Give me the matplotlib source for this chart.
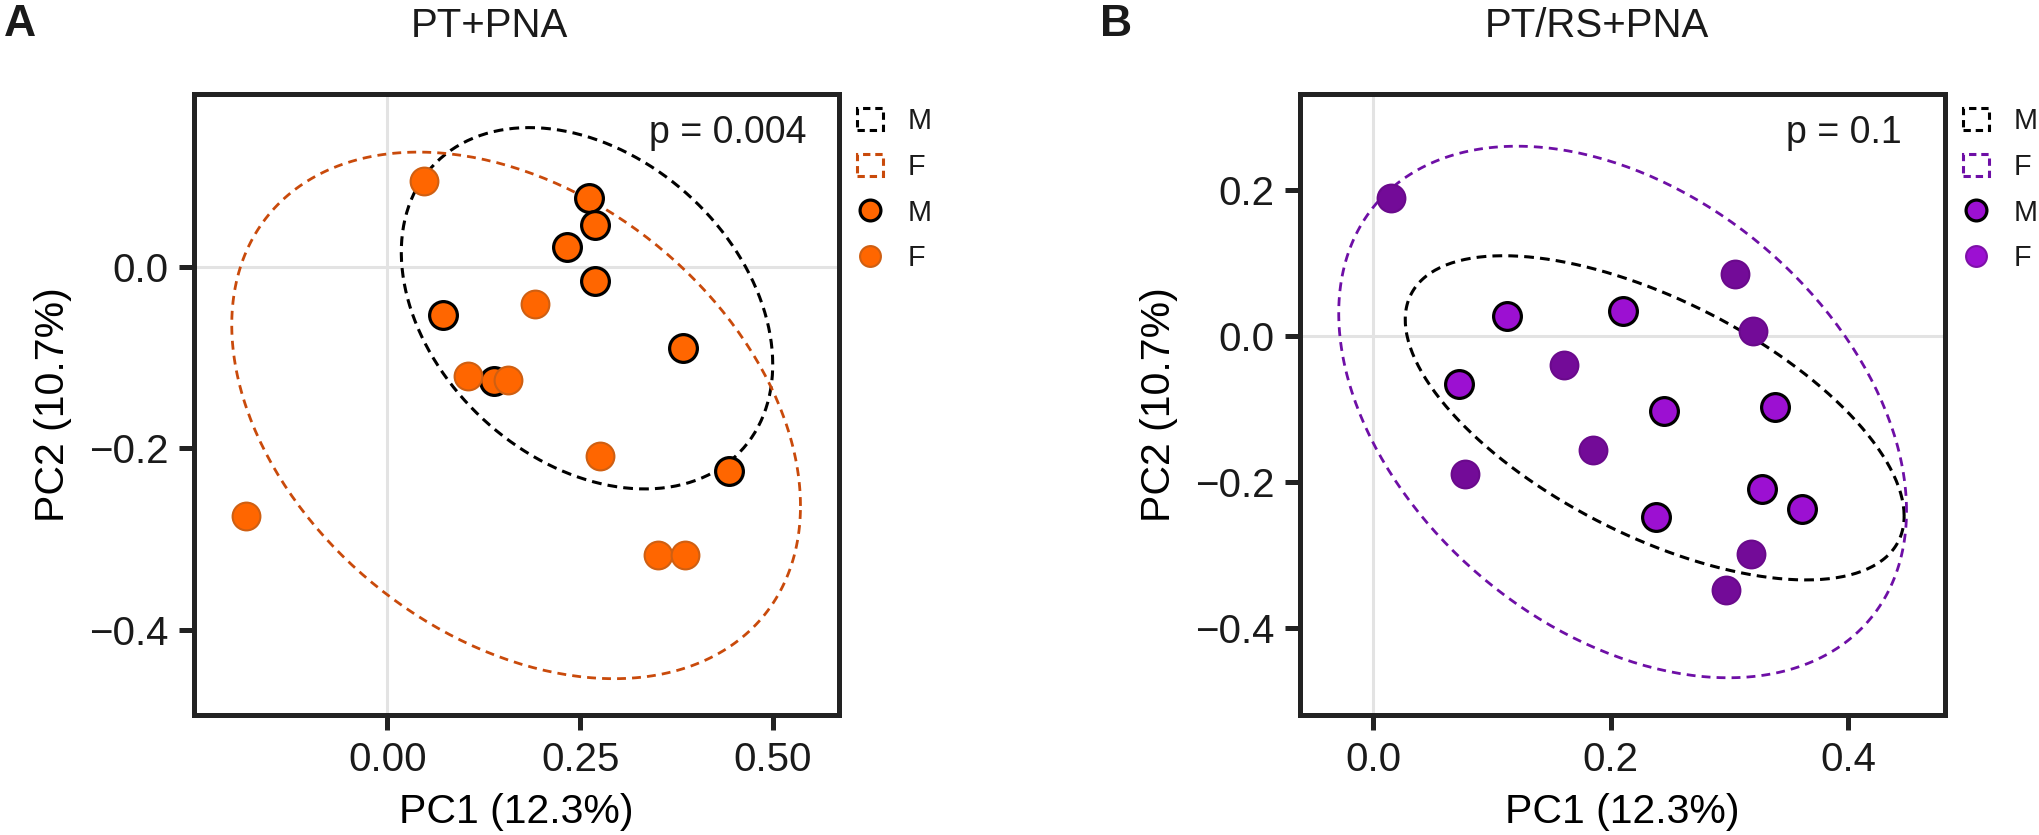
import numpy as np
import matplotlib
matplotlib.use("Agg")
import matplotlib.pyplot as plt
import matplotlib.patches as mpatches
from matplotlib.lines import Line2D

plt.rcParams['font.family'] = ['Liberation Sans', 'DejaVu Sans']
plt.rcParams['text.color'] = '#1a1a1a'

# ---- data ----
# panel A: PT+PNA
a_m_x = [0.261, 0.270, 0.233, 0.269, 0.072, 0.138, 0.384, 0.443]
a_m_y = [0.075, 0.046, 0.021, -0.016, -0.053, -0.126, -0.090, -0.225]
a_f_x = [0.047, 0.192, 0.104, 0.156, 0.276, -0.184, 0.351, 0.386]
a_f_y = [0.094, -0.041, -0.121, -0.125, -0.209, -0.275, -0.318, -0.318]

# panel B: PT/RS+PNA
b_m_x = [0.113, 0.210, 0.072, 0.245, 0.338, 0.327, 0.361, 0.238]
b_m_y = [0.027, 0.034, -0.066, -0.102, -0.097, -0.209, -0.237, -0.248]
b_f_x = [0.015, 0.305, 0.320, 0.161, 0.185, 0.077, 0.318, 0.297]
b_f_y = [0.189, 0.085, 0.007, -0.040, -0.156, -0.189, -0.298, -0.348]

# confidence ellipses: centre x, centre y, half-width x, half-height y, correlation
a_ell_m = [0.259, -0.046, 0.241, 0.199, -0.311]
a_ell_f = [0.167, -0.164, 0.369, 0.290, -0.344]
b_ell_m = [0.237, -0.112, 0.210, 0.222, -0.606]
b_ell_f = [0.210, -0.104, 0.239, 0.364, -0.372]

p_values = ["p = 0.004", "p = 0.1"]
titles = ["PT+PNA", "PT/RS+PNA"]
panel_tags = ["A", "B"]
sex_labels = ["M", "F"]

def ellipse_path(ell):
    cx, cy, sx, sy, rho = ell
    cov = np.array([[sx * sx, rho * sx * sy], [rho * sx * sy, sy * sy]])
    L = np.linalg.cholesky(cov)
    t = np.linspace(0, 2 * np.pi, 300)
    pts = L @ np.vstack([np.cos(t), np.sin(t)])
    return cx + pts[0], cy + pts[1]

def style_axes(ax):
    for s in ax.spines.values():
        s.set_linewidth(3.6)
        s.set_color('#222222')
    ax.tick_params(axis='both', length=10.5, width=3.6, color='#222222',
                   labelsize=29, pad=8, labelcolor='#1a1a1a')
    ax.axhline(0, color='#e3e3e3', lw=2.2, zorder=0)
    ax.axvline(0, color='#e3e3e3', lw=2.2, zorder=0)

W, H = 2040, 835
fig = plt.figure(figsize=(W / 100, H / 100), dpi=100)

panels = [
    dict(left=194, mx=a_m_x, my=a_m_y, fx=a_f_x, fy=a_f_y, em=a_ell_m, ef=a_ell_f,
         fill='#ff6600', f_fill='#ff6600', f_edge='#cf5f12', ell_col='#c94a0b',
         leg_f_fill='#ff6600', leg_f_edge='#cf5f12',
         xlim=(-0.251, 0.586), ylim=(-0.494, 0.190),
         xticks=[0, 0.25, 0.5], xtl=['0.00', '0.25', '0.50'],
         yticks=[0, -0.2, -0.4], ytl=['0.0', '\u22120.2', '\u22120.4'],
         ptx=0.949, tagx=4, titlex=489, legx=857),
    dict(left=1300, mx=b_m_x, my=b_m_y, fx=b_f_x, fy=b_f_y, em=b_ell_m, ef=b_ell_f,
         fill='#9c10d2', f_fill='#730b98', f_edge='#6a0a8c', ell_col='#6e0fa6',
         leg_f_fill='#9c10d2', leg_f_edge='#7e10a8',
         xlim=(-0.0616, 0.4814), ylim=(-0.519, 0.3315),
         xticks=[0, 0.2, 0.4], xtl=['0.0', '0.2', '0.4'],
         yticks=[0.2, 0, -0.2, -0.4], ytl=['0.2', '0.0', '\u22120.2', '\u22120.4'],
         ptx=0.933, tagx=1100, titlex=1597, legx=1963),
]

for i, p in enumerate(panels):
    ax = fig.add_axes((p['left'] / W, 1 - 715 / H, 645 / W, 621 / H))
    style_axes(ax)

    ex, ey = ellipse_path(p['em'])
    ax.plot(ex, ey, color='black', lw=2.2, ls=(0, (3.2, 2.0)), zorder=2)
    ex, ey = ellipse_path(p['ef'])
    ax.plot(ex, ey, color=p['ell_col'], lw=2.0, ls=(0, (3.2, 2.2)), zorder=2)

    ax.scatter(p['mx'], p['my'], s=400, c=p['fill'], edgecolors='black',
               linewidths=2.3, zorder=3)
    ax.scatter(p['fx'], p['fy'], s=400, c=p['f_fill'], edgecolors=p['f_edge'],
               linewidths=1.5, zorder=4)

    ax.set_xlim(p['xlim'])
    ax.set_ylim(p['ylim'])
    ax.set_xticks(p['xticks'])
    ax.set_xticklabels(p['xtl'])
    ax.set_yticks(p['yticks'])
    ax.set_yticklabels(p['ytl'])
    ax.set_xlabel("PC1 (12.3%)", fontsize=29.5, labelpad=10)
    ax.set_ylabel("PC2 (10.7%)", fontsize=29.5, labelpad=12)

    ax.text(p['ptx'], 0.921, p_values[i], transform=ax.transAxes,
            ha='right', va='baseline', fontsize=27)

    fig.text(p['tagx'] / W, 1 - 36 / H, panel_tags[i], fontsize=32,
             fontweight='bold', ha='left', va='baseline')
    fig.text(p['titlex'] / W, 1 - 37 / H, titles[i], fontsize=29,
             ha='center', va='baseline')

    handles = [
        mpatches.Patch(facecolor='none', edgecolor='black', linewidth=2.2,
                       linestyle=(0, (2.4, 1.6))),
        mpatches.Patch(facecolor='none', edgecolor=p['ell_col'], linewidth=2.2,
                       linestyle=(0, (2.4, 1.6))),
        Line2D([], [], ls='none', marker='o', markersize=15,
               markerfacecolor=p['fill'], markeredgecolor='black',
               markeredgewidth=2.3),
        Line2D([], [], ls='none', marker='o', markersize=15,
               markerfacecolor=p['leg_f_fill'], markeredgecolor=p['leg_f_edge'],
               markeredgewidth=1.5),
    ]
    ax.legend(handles, sex_labels + sex_labels, loc='upper left',
              bbox_to_anchor=(p['legx'] / W, 1 - 107 / H),
              bbox_transform=fig.transFigure, frameon=False, fontsize=20.7,
              borderpad=0, borderaxespad=0, handlelength=0.92,
              handleheight=0.82, handletextpad=0.85, labelspacing=0.62)

fig.savefig("out.png", dpi=100)
